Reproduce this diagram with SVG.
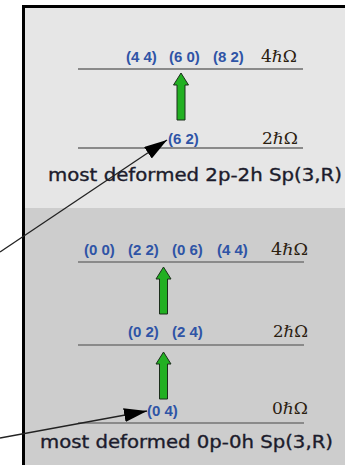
<svg xmlns="http://www.w3.org/2000/svg" width="345" height="465" viewBox="0 0 345 465">
  <style>
    .lvl { stroke: #8a8a8a; stroke-width: 2.2; }
    .irrep { font-family: "Liberation Sans", Arial, sans-serif; font-weight: bold; font-size: 15px; fill: #2f54a6; }
    .energy { font-family: "DejaVu Serif", "Liberation Serif", serif; font-size: 16px; fill: #2b2010; }
    .caption { font-family: "DejaVu Sans", "Liberation Sans", sans-serif; font-size: 17.5px; fill: #1c1c2c; stroke: #1c1c2c; stroke-width: 0.35; }
    .link { stroke: #222; stroke-width: 1.3; fill: none; }
    .excite { fill: #22b022; stroke: #1b2e1b; stroke-width: 1; }
  </style>
  <defs>
    <marker id="head" markerUnits="userSpaceOnUse" markerWidth="24" markerHeight="16" refX="23" refY="7" orient="auto">
      <path d="M0,0 L23,7 L0,14 Z" fill="#000"/>
    </marker>
    <!-- upward excitation arrow, tip at origin -->
    <path id="up" class="excite" d="M0,0 L7.5,12 L4,12 L4,47 L-4,47 L-4,12 L-7.5,12 Z"/>
  </defs>

  <!-- panels -->
  <rect x="23.5" y="6.5" width="330" height="470" fill="#e6e6e6"/>
  <rect x="25" y="208" width="330" height="270" fill="#cdcdcd"/>
  <rect x="23.5" y="6.5" width="330" height="470" fill="none" stroke="#000" stroke-width="3"/>

  <!-- 2p-2h Sp(3,R) band -->
  <g id="band-2p2h-4">
    <line class="lvl" x1="78" y1="69" x2="303" y2="69"/>
    <text class="irrep" x="126" y="62">(4 4)</text>
    <text class="irrep" x="169" y="62">(6 0)</text>
    <text class="irrep" x="213" y="62">(8 2)</text>
    <text class="energy" x="261" y="62" textLength="36" lengthAdjust="spacingAndGlyphs">4ℏΩ</text>
  </g>
  <g id="band-2p2h-2">
    <line class="lvl" x1="78" y1="148" x2="303" y2="148"/>
    <text class="irrep" x="168" y="144">(6 2)</text>
    <text class="energy" x="262" y="144" textLength="36" lengthAdjust="spacingAndGlyphs">2ℏΩ</text>
    <text class="caption" x="48" y="181" textLength="294" lengthAdjust="spacingAndGlyphs">most deformed 2p-2h Sp(3,R)</text>
  </g>

  <!-- 0p-0h Sp(3,R) band -->
  <g id="band-0p0h-4">
    <line class="lvl" x1="78" y1="262" x2="304" y2="262"/>
    <text class="irrep" x="84" y="255">(0 0)</text>
    <text class="irrep" x="128" y="255">(2 2)</text>
    <text class="irrep" x="172" y="255">(0 6)</text>
    <text class="irrep" x="217" y="255">(4 4)</text>
    <text class="energy" x="271" y="255" textLength="37" lengthAdjust="spacingAndGlyphs">4ℏΩ</text>
  </g>
  <g id="band-0p0h-2">
    <line class="lvl" x1="78" y1="345" x2="304" y2="345"/>
    <text class="irrep" x="128" y="337">(0 2)</text>
    <text class="irrep" x="172" y="337">(2 4)</text>
    <text class="energy" x="273" y="337" textLength="35" lengthAdjust="spacingAndGlyphs">2ℏΩ</text>
  </g>
  <g id="band-0p0h-0">
    <line class="lvl" x1="78" y1="423" x2="304" y2="423"/>
    <text class="irrep" x="147" y="416">(0 4)</text>
    <text class="energy" x="272" y="414" textLength="36" lengthAdjust="spacingAndGlyphs">0ℏΩ</text>
    <text class="caption" x="40" y="448" textLength="293" lengthAdjust="spacingAndGlyphs">most deformed 0p-0h Sp(3,R)</text>
  </g>

  <!-- connectors -->
  <g id="connectors">
    <use href="#up" x="181" y="73"/>
    <use href="#up" x="163.5" y="267"/>
    <use href="#up" x="163.5" y="352"/>
    <line class="link" x1="0" y1="252" x2="167" y2="140" marker-end="url(#head)"/>
    <line class="link" x1="0" y1="438" x2="147" y2="411" marker-end="url(#head)"/>
  </g>
</svg>
